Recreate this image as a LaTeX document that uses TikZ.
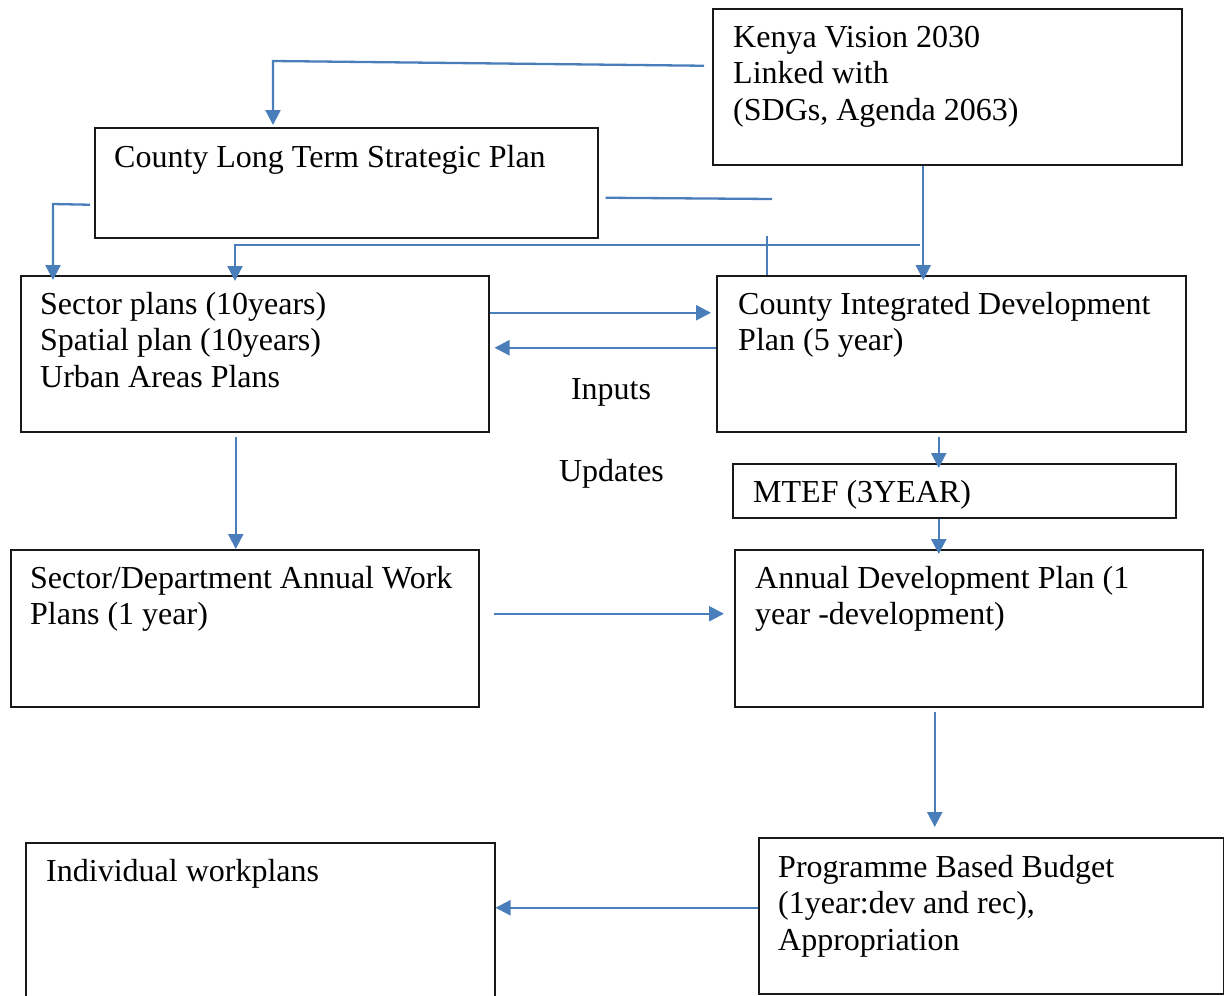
\documentclass[tikz,border=0pt]{standalone}
\usepackage{fontspec}
\setmainfont{Liberation Serif}
\usetikzlibrary{arrows.meta}
\definecolor{lineblue}{RGB}{74,126,187}
\begin{document}
\begin{tikzpicture}[x=1pt,y=-1pt,
  box/.style={draw=black!90, line width=1.5pt, rectangle, inner sep=0pt, anchor=north west},
  txt/.style={anchor=base west, align=left, inner sep=0pt, font=\fontsize{32}{36.7}\selectfont},
  conn/.style={draw=lineblue, line width=2.3pt},
  arr/.style={conn, -{Triangle[length=15pt,width=15pt]}},
]
\useasboundingbox (0,0) rectangle (1224,996);

% boxes
\node[box, minimum width=469pt, minimum height=156pt] (kenya) at (712,8) {};
\node[box, minimum width=503pt, minimum height=110pt] (cltsp) at (94,127) {};
\node[box, minimum width=468pt, minimum height=156pt] (sector) at (20,275) {};
\node[box, minimum width=469pt, minimum height=156pt] (cidp) at (716,275) {};
\node[box, minimum width=443pt, minimum height=54pt] (mtef) at (732,463) {};
\node[box, minimum width=468pt, minimum height=157pt] (secdept) at (10,549) {};
\node[box, minimum width=468pt, minimum height=157pt] (adp) at (734,549) {};
\node[box, minimum width=469pt, minimum height=175pt] (indiv) at (25,842) {};
\node[box, minimum width=465pt, minimum height=156pt] (pbb) at (758,837) {};

% texts (base anchor of a multi-line node is its last line)
\node[txt] (kenyaT) at ([xshift=21pt,yshift=-112.4pt]kenya.north west) {Kenya Vision 2030\\Linked with\\(SDGs, Agenda 2063)};
\node[txt] (cltspT) at ([xshift=20pt,yshift=-40pt]cltsp.north west) {County Long Term Strategic Plan};
\node[txt] (sectorT) at ([xshift=20pt,yshift=-112.4pt]sector.north west) {Sector plans (10years)\\Spatial plan (10years)\\Urban Areas Plans};
\node[txt] (cidpT) at ([xshift=22pt,yshift=-75.7pt]cidp.north west) {County Integrated Development\\Plan (5 year)};
\node[txt] (mtefT) at ([xshift=21pt,yshift=-39pt]mtef.north west) {MTEF (3YEAR)};
\node[txt] (secdeptT) at ([xshift=20pt,yshift=-75.7pt]secdept.north west) {Sector/Department Annual Work\\Plans (1 year)};
\node[txt] (adpT) at ([xshift=21pt,yshift=-75.7pt]adp.north west) {Annual Development Plan (1\\year -development)};
\node[txt] (indivT) at ([xshift=21pt,yshift=-39pt]indiv.north west) {Individual workplans};
\node[txt] (pbbT) at ([xshift=20pt,yshift=-113.4pt]pbb.north west) {Programme Based Budget\\(1year:dev and rec),\\Appropriation};

\node[txt, anchor=base] (inputs) at (611,399) {Inputs};
\node[txt, anchor=base] (updates) at (611.5,481) {Updates};

% connector bend points
\coordinate (bA) at (273,61);
\coordinate (bB) at (53,204);
\coordinate (stubEnd) at (772,199);
\coordinate (bC) at (920,245);
\coordinate (bD) at (235,245);
\coordinate (stubTop) at (767,236);

% connectors
\draw[arr, shorten >=2pt] ([xshift=-8pt,yshift=21pt]kenya.west) -- (bA) -- (bA |- cltsp.north);
\draw[arr, shorten >=-5pt] ([xshift=-4pt,yshift=-22pt]cltsp.west) -- (bB) -- (bB |- sector.north);
\draw[conn] ([xshift=7pt,yshift=-15pt]cltsp.east) -- (stubEnd);
\draw[arr, shorten >=-6pt] (bC) -- (bD) -- (bD |- sector.north);
\draw[conn] (stubTop) -- (stubTop |- cidp.north);
\draw[arr, shorten >=-5pt] ([xshift=-24pt]kenya.south) -- ([xshift=-24pt]kenya.south |- cidp.north);
\draw[arr, shorten >=5pt] ([yshift=41pt]sector.east) -- ([yshift=41pt]sector.east -| cidp.west);
\draw[arr, shorten >=5pt] ([yshift=6pt]cidp.west) -- ([yshift=6pt]cidp.west -| sector.east);
\draw[arr, shorten <=4pt, shorten >=-5pt] ([xshift=-12.5pt]cidp.south) -- ([xshift=-12.5pt]cidp.south |- mtef.north);
\draw[arr, shorten >=-5pt] ([xshift=-15.5pt]mtef.south) -- ([xshift=-15.5pt]mtef.south |- adp.north);
\draw[arr, shorten <=4pt] ([xshift=-19pt]sector.south) -- ([xshift=-19pt]sector.south |- secdept.north);
\draw[arr, shorten <=14pt, shorten >=10pt] ([yshift=14.5pt]secdept.east) -- ([yshift=14.5pt]secdept.east -| adp.west);
\draw[arr, shorten <=4pt, shorten >=10pt] ([xshift=-34pt]adp.south) -- ([xshift=-34pt]adp.south |- pbb.north);
\draw[arr] ([yshift=8pt]pbb.west) -- ([yshift=8pt]pbb.west -| indiv.east);
\end{tikzpicture}
\end{document}
